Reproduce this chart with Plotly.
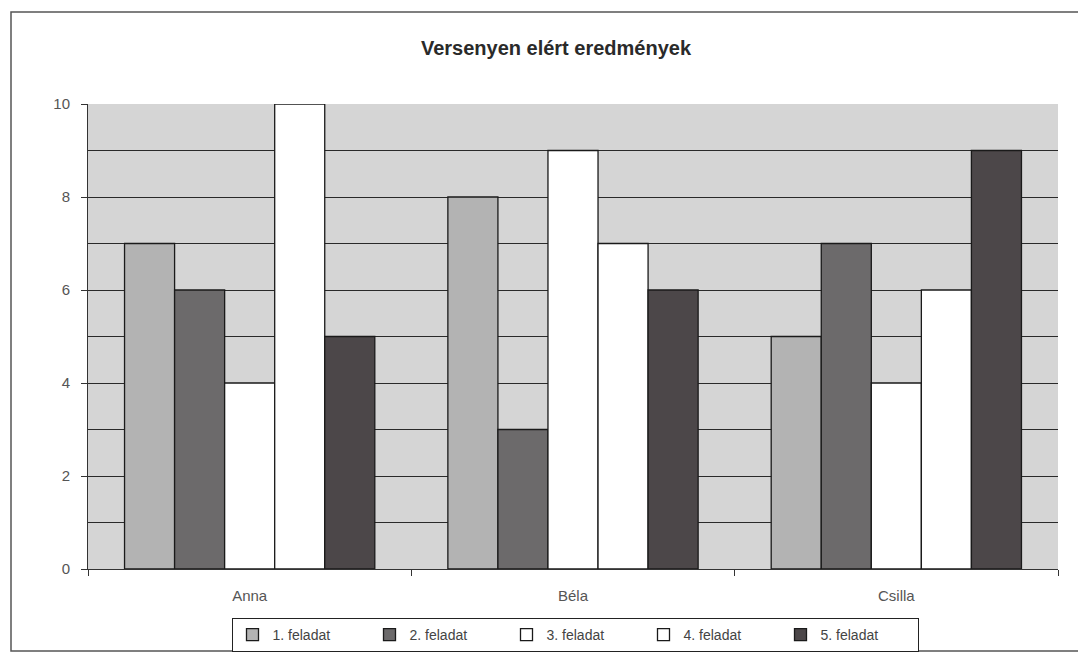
import plotly.graph_objects as go

categories = ["Anna", "Béla", "Csilla"]
series_names = ["1. feladat", "2. feladat", "3. feladat", "4. feladat", "5. feladat"]
task1 = [7, 8, 5]
task2 = [6, 3, 7]
task3 = [4, 9, 4]
task4 = [10, 7, 6]
task5 = [5, 6, 9]
series_values = [task1, task2, task3, task4, task5]
colors = ["#b3b3b3", "#6c6a6b", "#ffffff", "#ffffff", "#4c4749"]
y_ticks = [0, 2, 4, 6, 8, 10]

fig = go.Figure()
for name, vals, col in zip(series_names, series_values, colors):
    fig.add_trace(go.Bar(
        x=categories, y=vals, name=name,
        marker=dict(color=col, line=dict(color="#1a1a1a", width=1.3)),
    ))

W, H = 1086, 653
OFF = 8  # page body margin
L, R, T, B = 88 - OFF, W - (1058 - OFF), 104 - OFF, H - (569 - OFF)
pw, ph = W - L - R, H - T - B

def px_x(x):
    return (x - OFF - L) / pw

def px_y(y):
    return (H - B - (y - OFF)) / ph

fig.update_layout(
    width=W, height=H,
    margin=dict(l=L, r=R, t=T, b=B, autoexpand=False),
    paper_bgcolor="white",
    plot_bgcolor="#d5d5d5",
    barmode="group",
    bargap=0.226,
    bargroupgap=0,
    font=dict(family="Liberation Sans, Arial, sans-serif", size=14, color="#444"),
    title=dict(
        text="<b>Versenyen elért eredmények</b>",
        x=(556 - OFF) / W, xanchor="center",
        y=1 - (48 - OFF) / H, yanchor="middle",
        font=dict(size=20, color="#2a2a2a"),
    ),
    showlegend=True,
    legend=dict(
        orientation="h",
        x=px_x(575), xanchor="center",
        y=px_y(618), yanchor="top",
        bordercolor="#222", borderwidth=1,
        bgcolor="white",
        font=dict(size=14, color="#444"),
        entrywidth=92, entrywidthmode="pixels",
        itemwidth=30,
        tracegroupgap=0,
        traceorder="normal",
    ),
    xaxis=dict(
        showline=True, linecolor="#333", linewidth=1,
        ticks="outside", ticklen=6, tickcolor="#333",
        tickson="boundaries",
        showgrid=False,
        ticklabelstandoff=13,
        tickfont=dict(size=15, color="#555"),
    ),
    yaxis=dict(
        range=[0, 10],
        tickvals=y_ticks,
        showline=True, linecolor="#333", linewidth=1,
        ticks="outside", ticklen=6, tickcolor="#333",
        showgrid=True, gridcolor="#2a2a2a", gridwidth=1,
        minor=dict(dtick=1, showgrid=True, gridcolor="#2a2a2a", gridwidth=1, ticks=""),
        zeroline=False,
        ticklabelstandoff=8,
        tickfont=dict(size=15, color="#555"),
    ),
    shapes=[
        dict(type="rect", xref="paper", yref="paper",
             x0=px_x(11), x1=px_x(1081), y0=px_y(651), y1=px_y(12),
             line=dict(color="#555", width=1.5), fillcolor="rgba(0,0,0,0)",
             layer="below"),
    ],
)

fig.write_html("out.html")
